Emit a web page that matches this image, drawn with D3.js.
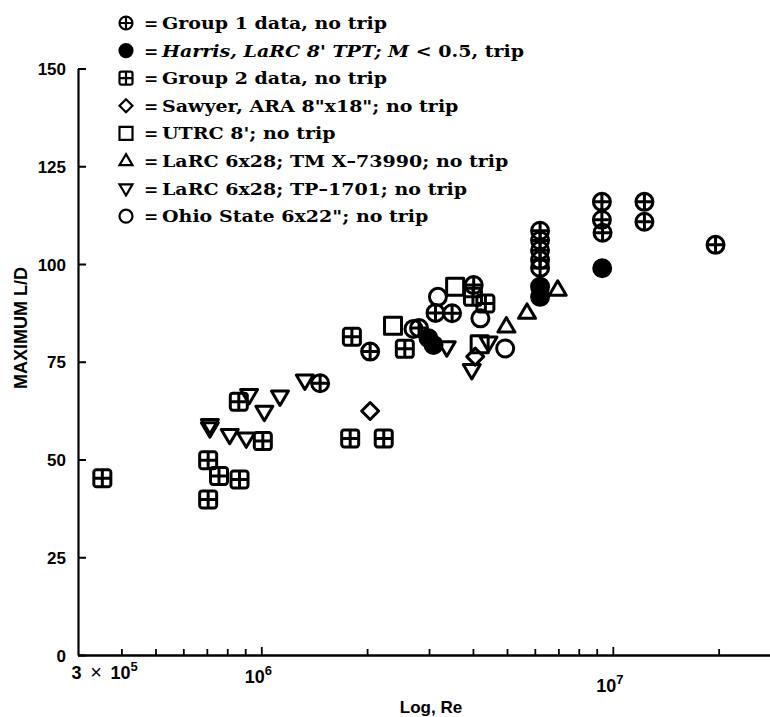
<!DOCTYPE html>
<html>
<head>
<meta charset="utf-8">
<script src="https://cdn.jsdelivr.net/npm/d3@7"></script>
<style>
  body { margin: 0; background: #fff; }
  svg { display: block; }
</style>
</head>
<body>
<svg id="chart" width="770" height="717"></svg>
<script>
// ---------------- DATA ----------------
const seriesNames = [
  "Group 1 data, no trip",
  "Harris, LaRC 8' TPT; M < 0.5, trip",
  "Group 2 data, no trip",
  "Sawyer, ARA 8\"x18\"; no trip",
  "UTRC 8'; no trip",
  "LaRC 6x28; TM X\u201373990; no trip",
  "LaRC 6x28; TP\u20131701; no trip",
  "Ohio State 6x22\"; no trip"
];
const seriesSymbols = ["circlePlus", "filledCircle", "squarePlus", "diamond", "square", "triangleUp", "triangleDown", "circle"];

// Group 1 (circle with cross)
const group1Re = [1.47e6, 2.04e6, 2.81e6, 3.13e6, 3.49e6, 4.02e6, 6.21e6, 6.21e6, 6.21e6, 6.21e6, 6.21e6, 9.31e6, 9.31e6, 9.35e6, 1.23e7, 1.23e7, 1.96e7];
const group1LD = [69.5, 77.6, 83.6, 87.5, 87.4, 94.6, 108.5, 106, 103.5, 101, 99, 115.9, 111.3, 108.0, 115.9, 110.8, 104.9];

// Harris (filled circle)
const harrisRe = [2.99e6, 3.09e6, 6.21e6, 6.21e6, 9.33e6];
const harrisLD = [81.0, 79.3, 94.2, 91.6, 98.9];

// Group 2 (square with cross)
const group2Re = [3.53e5, 7.06e5, 7.58e5, 8.67e5, 7.06e5, 1.01e6, 8.63e5, 1.81e6, 1.79e6, 2.23e6, 2.56e6, 4.0e6, 4.34e6];
const group2LD = [45.2, 49.8, 45.8, 44.9, 39.8, 54.7, 64.8, 81.4, 55.4, 55.4, 78.3, 91.6, 89.9];

// Sawyer (diamond)
const sawyerRe = [2.04e6, 4.06e6];
const sawyerLD = [62.4, 76.3];

// UTRC (open square)
const utrcRe = [2.37e6, 3.56e6, 4.18e6];
const utrcLD = [84.2, 94.2, 79.5];

// LaRC TM X-73990 (triangle up)
const larcTmRe = [4.98e6, 5.7e6, 6.97e6];
const larcTmLD = [84.0, 87.5, 93.4];

// LaRC TP-1701 (triangle down)
const larcTpRe = [7.14e5, 7.14e5, 8.13e5, 9.06e5, 9.23e5, 1.02e6, 1.13e6, 1.33e6, 3.37e6, 3.97e6, 4.43e6];
const larcTpLD = [58.8, 58.0, 56.3, 55.4, 66.5, 62.2, 66.1, 70.2, 78.7, 72.9, 79.9];

// Ohio State (open circle)
const ohioRe = [2.71e6, 3.18e6, 4.2e6, 4.94e6];
const ohioLD = [83.4, 91.6, 86.1, 78.4];

const seriesRe = [group1Re, harrisRe, group2Re, sawyerRe, utrcRe, larcTmRe, larcTpRe, ohioRe];
const seriesLD = [group1LD, harrisLD, group2LD, sawyerLD, utrcLD, larcTmLD, larcTpLD, ohioLD];

const yTickValues = [0, 25, 50, 75, 100, 125, 150];
const xMinorTicks = [4e5, 5e5, 6e5, 7e5, 8e5, 9e5, 2e6, 3e6, 4e6, 5e6, 6e6, 7e6, 8e6, 9e6, 2e7];
const xMajorTicks = [1e6, 1e7];
const xLabelValues = [3e5, 1e6, 1e7];
const xLabelMantissa = ["3 \u00D7 10", "10", "10"];
const xLabelExponent = ["5", "6", "7"];
const yTitle = "MAXIMUM  L/D";
const xTitle = "Log, Re";

// ---------------- SCALES ----------------
const svg = d3.select("#chart");
const x = d3.scaleLog().domain([3e5, 2.8e7]).range([77.5, 770]);
const y = d3.scaleLinear().domain([0, 150]).range([655, 68.5]);

const axisFont = "'Liberation Sans', Arial, sans-serif";
const legendFont = "'DejaVu Serif', 'Liberation Serif', serif";

// ---------------- SYMBOLS ----------------
function mkType(kind) {
  return {
    draw(ctx, size) {
      const s = Math.sqrt(size);
      const r = s / 2;
      if (kind === "circle" || kind === "filledCircle") {
        ctx.moveTo(r, 0); ctx.arc(0, 0, r, 0, 2 * Math.PI); ctx.closePath();
      } else if (kind === "circlePlus") {
        ctx.moveTo(r, 0); ctx.arc(0, 0, r, 0, 2 * Math.PI); ctx.closePath();
        ctx.moveTo(-r, 0); ctx.lineTo(r, 0);
        ctx.moveTo(0, -r); ctx.lineTo(0, r);
      } else if (kind === "squarePlus") {
        const c = r * 0.3;
        ctx.moveTo(-r + c, -r);
        ctx.lineTo(r - c, -r); ctx.arcTo(r, -r, r, -r + c, c);
        ctx.lineTo(r, r - c); ctx.arcTo(r, r, r - c, r, c);
        ctx.lineTo(-r + c, r); ctx.arcTo(-r, r, -r, r - c, c);
        ctx.lineTo(-r, -r + c); ctx.arcTo(-r, -r, -r + c, -r, c);
        ctx.closePath();
        ctx.moveTo(-r, 0); ctx.lineTo(r, 0);
        ctx.moveTo(0, -r); ctx.lineTo(0, r);
      } else if (kind === "square") {
        ctx.moveTo(-r, -r); ctx.lineTo(r, -r); ctx.lineTo(r, r); ctx.lineTo(-r, r); ctx.closePath();
      } else if (kind === "diamond") {
        const d = r * 1.0;
        ctx.moveTo(0, -d); ctx.lineTo(d, 0); ctx.lineTo(0, d); ctx.lineTo(-d, 0); ctx.closePath();
      } else if (kind === "triangleUp") {
        const h = s * 0.85;
        ctx.moveTo(0, -h * 0.62); ctx.lineTo(r, h * 0.38); ctx.lineTo(-r, h * 0.38); ctx.closePath();
      } else if (kind === "triangleDown") {
        const h = s * 0.85;
        ctx.moveTo(0, h * 0.62); ctx.lineTo(r, -h * 0.38); ctx.lineTo(-r, -h * 0.38); ctx.closePath();
      }
    }
  };
}

// ---------------- AXES ----------------
const yAxis = d3.axisLeft(y).tickValues(yTickValues).tickSize(-8).tickSizeOuter(0).tickPadding(12);
const gy = svg.append("g").attr("transform", "translate(78,0)").call(yAxis);
gy.select(".domain").attr("stroke", "#000").attr("stroke-width", 2.2);
gy.selectAll(".tick line").attr("stroke", "#000").attr("stroke-width", 2);
gy.selectAll(".tick text")
  .attr("font-family", axisFont).attr("font-weight", "bold").attr("font-size", 17)
  .attr("fill", "#000").attr("dy", "0.36em");

const xAxisMinor = d3.axisTop(x).tickValues(xMinorTicks).tickSize(6).tickSizeOuter(0).tickFormat("");
const gx = svg.append("g").attr("transform", "translate(0,655)").call(xAxisMinor);
gx.select(".domain").attr("stroke", "#000").attr("stroke-width", 2.6);
gx.selectAll(".tick line").attr("stroke", "#000").attr("stroke-width", 1.8);

const xAxisMajor = d3.axisTop(x).tickValues(xMajorTicks).tickSize(8).tickSizeOuter(0).tickFormat("");
const gx2 = svg.append("g").attr("transform", "translate(0,655)").call(xAxisMajor);
gx2.select(".domain").remove();
gx2.selectAll(".tick line").attr("stroke", "#000").attr("stroke-width", 1.8);

// x tick labels with superscript exponents
xLabelValues.forEach((v, i) => {
  const px = x(v);
  const base = 679 + (px - 77) * 0.024;
  const t = svg.append("text")
    .attr("x", i === 0 ? px - 6 : px - 3)
    .attr("y", base)
    .attr("text-anchor", i === 0 ? "start" : "middle")
    .attr("font-family", axisFont).attr("font-weight", "bold").attr("font-size", 18)
    .attr("fill", "#000");
  const parts = xLabelMantissa[i].split("\u00D7");
  if (parts.length > 1) {
    t.append("tspan").text(parts[0] + "\u2009");
    t.append("tspan").attr("font-weight", "normal").attr("font-size", 20).text("\u00D7");
    t.append("tspan").text("\u2009" + parts[1].trim().padStart(parts[1].trim().length + 1, " "));
  } else {
    t.append("tspan").text(xLabelMantissa[i]);
  }
  t.append("tspan").attr("dy", -8).attr("font-size", 13).text(xLabelExponent[i]);
});

// axis titles
svg.append("text")
  .attr("x", 431).attr("y", 713)
  .attr("text-anchor", "middle")
  .attr("font-family", axisFont).attr("font-weight", "bold").attr("font-size", 17)
  .attr("fill", "#000").text(xTitle);

svg.append("text")
  .attr("transform", "translate(27,328) rotate(-90)")
  .attr("text-anchor", "middle")
  .attr("font-family", axisFont).attr("font-weight", "bold").attr("font-size", 18)
  .attr("fill", "#000").text(yTitle);

// ---------------- DATA MARKS ----------------
const markerSize = 17;
const plot = svg.append("g");
seriesRe.forEach((reArr, si) => {
  const kind = seriesSymbols[si];
  const sym = d3.symbol().type(mkType(kind)).size(markerSize * markerSize);
  plot.append("g")
    .selectAll("path")
    .data(reArr.map((re, j) => ({ re, ld: seriesLD[si][j] })))
    .join("path")
    .attr("transform", d => `translate(${x(d.re)},${y(d.ld)})`)
    .attr("d", sym)
    .attr("fill", kind === "filledCircle" ? "#000" : "none")
    .attr("stroke", "#000")
    .attr("stroke-width", 3)
    .attr("stroke-linejoin", "round");
});

// ---------------- LEGEND ----------------
const legend = svg.append("g");
seriesNames.forEach((name, i) => {
  const cy = 23 + i * 27.6;
  const kind = seriesSymbols[i];
  legend.append("path")
    .attr("transform", `translate(126,${cy})`)
    .attr("d", d3.symbol().type(mkType(kind)).size(13 * 13))
    .attr("fill", kind === "filledCircle" ? "#000" : "none")
    .attr("stroke", "#000").attr("stroke-width", 2.2);
  legend.append("text")
    .attr("x", 144).attr("y", cy + 6)
    .attr("font-family", legendFont).attr("font-weight", "bold").attr("font-size", 17)
    .attr("fill", "#000").text("=");
  const t = legend.append("text")
    .attr("transform", `translate(162,${cy + 6}) scale(1.12,1)`)
    .attr("font-family", legendFont).attr("font-weight", "bold").attr("font-size", 17)
    .attr("fill", "#000");
  if (i === 1) {
    t.append("tspan").attr("font-style", "italic").text("Harris, LaRC 8' TPT; M");
    t.append("tspan").text(" < 0.5, trip");
  } else {
    t.text(name);
  }
});
</script>
</body>
</html>
